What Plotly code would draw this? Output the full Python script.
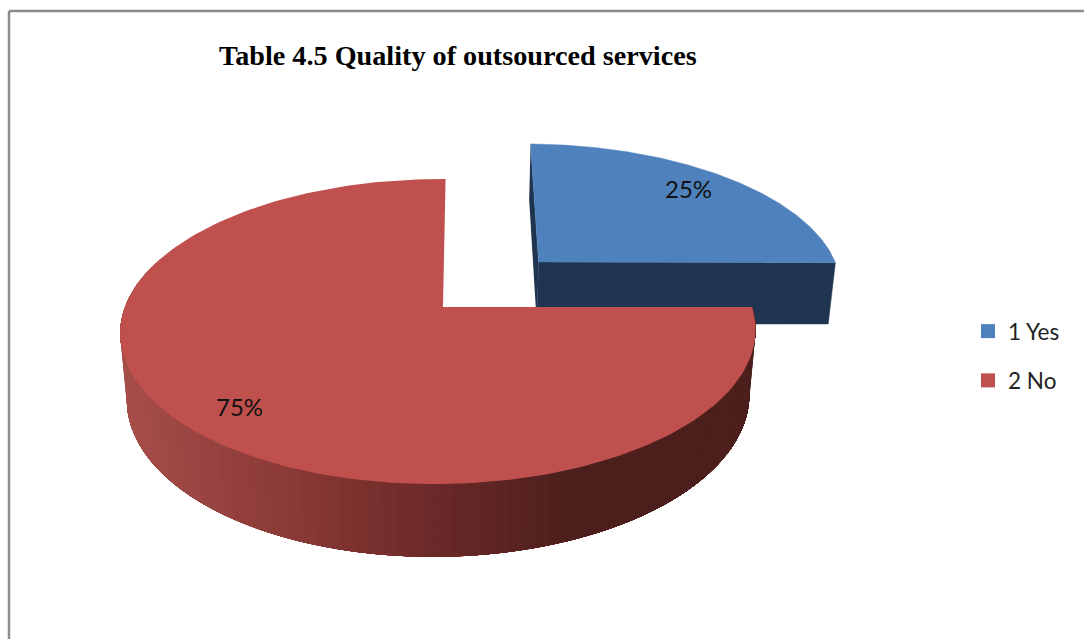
import math
import plotly.graph_objects as go

# Survey shares drawn as an exploded 3-D pie
categories = ["1 Yes", "2 No"]
shares = [25, 75]
title_text = "Table 4.5 Quality of outsourced services"

BLUE_TOP, BLUE_DARK = "#4F81BD", "#1F344E"
RED_TOP = "#C0504D"
# Rim shading of the red slice: pixel x -> colour
RIM_STOPS = [(125, (166, 78, 74)), (300, (136, 56, 53)), (430, (106, 41, 40)),
             (565, (76, 31, 29)), (760, (76, 31, 29))]

# Perspective projection of the pie: u right, v away, w down (unit = radius)
OX, OY = 443.0, 307.0
A, B, H = 313.5, 148.6, 66.0
K, M, N = 0.1607, 0.0143, 0.02
SKEW_NO, SKEW_YES = 3.0, 5.8
EXPLODE_U, EXPLODE_V = 0.316, 0.32
YES_RADIUS = 1.018


def project(u, v, w=0.0, skew=SKEW_NO):
    d = 1 + K * v + M * u + N * w
    return OX + (A * u + skew * v) / d, OY + (-B * v + H * w) / d


def rim_no(theta, w=0.0):
    return project(math.sin(theta), math.cos(theta), w)


def rim_yes(theta, w=0.0):
    return project(EXPLODE_U + YES_RADIUS * math.sin(theta), EXPLODE_V + YES_RADIUS * math.cos(theta),
                   w, SKEW_YES)


def rim_colour(x):
    for (x0, c0), (x1, c1) in zip(RIM_STOPS, RIM_STOPS[1:]):
        if x <= x1:
            t = max(0.0, (x - x0) / (x1 - x0))
            return "rgb({},{},{})".format(*[round(a + (b - a) * t) for a, b in zip(c0, c1)])
    return "rgb(76,31,29)"


def polygon(points, colour, edge=0.0):
    xs, ys = zip(*points)
    return go.Scatter(x=list(xs) + [xs[0]], y=list(ys) + [ys[0]], mode="lines", fill="toself",
                      fillcolor=colour, line=dict(width=edge, color=colour), hoverinfo="skip", showlegend=False)


def arc(rim, start, end, w=0.0, steps=180):
    return [rim(start + (end - start) * i / steps, w) for i in range(steps + 1)]


fig = go.Figure()

# Slice angles come from the shares, clockwise from twelve o'clock
total = sum(shares)
yes_end = 2 * math.pi * shares[0] / total

# Exploded "Yes" slice: inner wall, radial front wall, then its top face
apex_top = project(EXPLODE_U, EXPLODE_V, 0, SKEW_YES)
apex_low = project(EXPLODE_U, EXPLODE_V, 1, SKEW_YES)
fig.add_trace(polygon([apex_top, rim_yes(0), rim_yes(0, 1), apex_low], BLUE_DARK))
fig.add_trace(polygon([apex_top, rim_yes(yes_end), rim_yes(yes_end, 1), apex_low], BLUE_DARK, 0.5))
fig.add_trace(polygon([apex_top] + arc(rim_yes, 0, yes_end), BLUE_TOP, 0.5))

# "No" slice rim: overlapping bands painted from the far left towards the right,
# each one running on to the slice's end so no gaps open between bands
rim_end = 1.6 * math.pi
bands = 90
for i in range(bands):
    a = rim_end + (yes_end - rim_end) * i / bands
    n = max(2, int(abs(a - yes_end) / 0.02))
    outline = arc(rim_no, yes_end, a, 0, n) + arc(rim_no, a, yes_end, 1, n)
    fig.add_trace(polygon(outline, rim_colour(rim_no(a, 1)[0])))
fig.add_trace(polygon([project(0, 0)] + arc(rim_no, yes_end, 2 * math.pi), RED_TOP))

# Legend entries
for name, colour in zip(categories, [BLUE_TOP, RED_TOP]):
    fig.add_trace(go.Scatter(x=[None], y=[None], mode="markers", name=name, legendgroup=name,
                             marker=dict(symbol="square", size=14, color=colour)))

# Percentage labels
label_font = dict(family="Lato, Carlito, sans-serif", size=24, color="#111111")
for value, (lx, ly) in zip(shares, [(688, 188), (239, 406)]):
    fig.add_annotation(x=lx, y=ly, text=f"{value}%", showarrow=False, font=label_font)

# Chart frame: only the top and left edges fall inside the page
frame = dict(color="#8C8C8C", width=2.5)
fig.add_shape(type="line", x0=9, x1=1084, y0=11, y1=11, line=frame)
fig.add_shape(type="line", x0=9, x1=9, y0=11, y1=639, line=frame)

fig.update_layout(
    width=1084, height=639, margin=dict(l=0, r=0, t=0, b=0),
    paper_bgcolor="white", plot_bgcolor="white",
    xaxis=dict(range=[0, 1084], visible=False, fixedrange=True),
    yaxis=dict(range=[639, 0], visible=False, fixedrange=True),
    title=dict(text=f"<b>{title_text}</b>", x=219 / 1084, xanchor="left", y=1 - 55 / 639, yanchor="middle",
               font=dict(family="Liberation Serif", size=28.2, color="#000000")),
    legend=dict(x=968 / 1084, xanchor="left", y=1 - 310 / 639, yanchor="top", tracegroupgap=17,
                font=dict(family="Lato, Carlito, sans-serif", size=22.5, color="#222222"),
                bgcolor="rgba(0,0,0,0)", itemclick=False, itemdoubleclick=False),
)

fig.write_html("out.html")
